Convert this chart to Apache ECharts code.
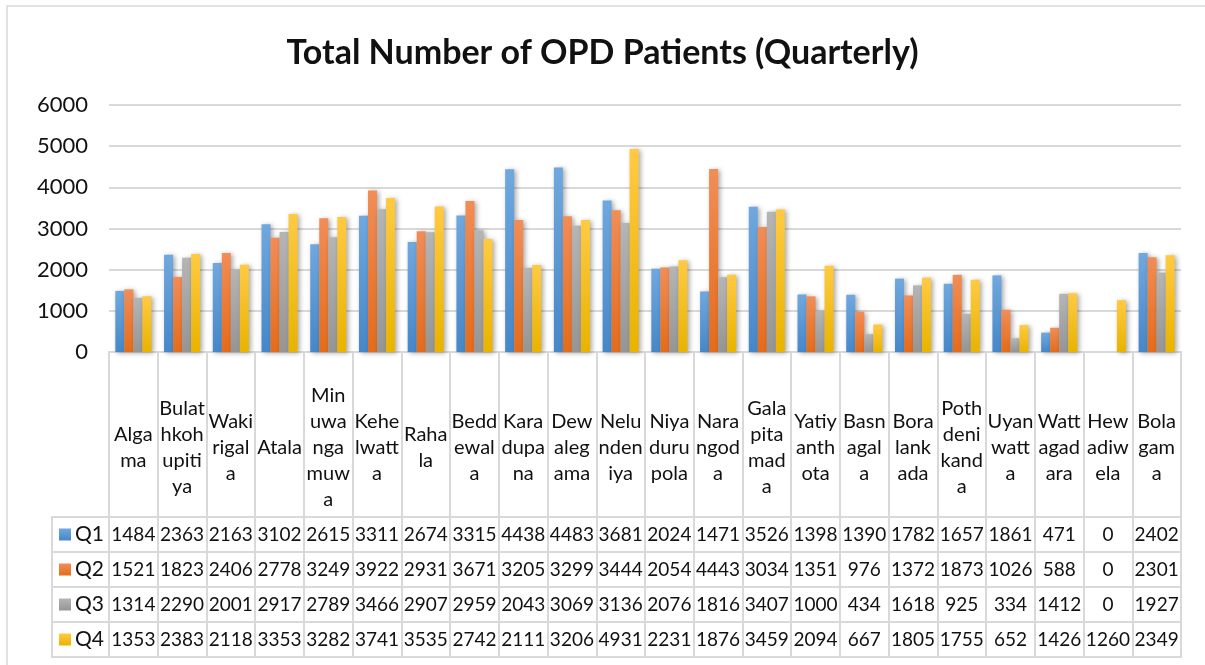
<!DOCTYPE html>
<html>
<head>
<meta charset="utf-8">
<title>Total Number of OPD Patients (Quarterly)</title>
<script src="https://cdn.jsdelivr.net/npm/echarts@6/dist/echarts.min.js"></script>
<style>
  html, body { margin: 0; padding: 0; background: #ffffff; }
  #chart { width: 1205px; height: 665px; }
</style>
</head>
<body>
<div id="chart"></div>
<script>
// Health centres, wrapped the way they appear in the table header row
const categories = [
  'Alga\nma', 'Bulat\nhkoh\nupiti\nya', 'Waki\nrigal\na', 'Atala', 'Min\nuwa\nnga\nmuw\na',
  'Kehe\nlwatt\na', 'Raha\nla', 'Bedd\newal\na', 'Kara\ndupa\nna', 'Dew\naleg\nama',
  'Nelu\nnden\niya', 'Niya\nduru\npola', 'Nara\nngod\na', 'Gala\npita\nmad\na', 'Yatiy\nanth\nota',
  'Basn\nagal\na', 'Bora\nlank\nada', 'Poth\ndeni\nkand\na', 'Uyan\nwatt\na', 'Watt\nagad\nara',
  'Hew\nadiw\nela', 'Bola\ngam\na'
];

const quarters = ['Q1', 'Q2', 'Q3', 'Q4'];

const q1 = [1484, 2363, 2163, 3102, 2615, 3311, 2674, 3315, 4438, 4483, 3681, 2024, 1471, 3526, 1398, 1390, 1782, 1657, 1861, 471, 0, 2402];
const q2 = [1521, 1823, 2406, 2778, 3249, 3922, 2931, 3671, 3205, 3299, 3444, 2054, 4443, 3034, 1351, 976, 1372, 1873, 1026, 588, 0, 2301];
const q3 = [1314, 2290, 2001, 2917, 2789, 3466, 2907, 2959, 2043, 3069, 3136, 2076, 1816, 3407, 1000, 434, 1618, 925, 334, 1412, 0, 1927];
const q4 = [1353, 2383, 2118, 3353, 3282, 3741, 3535, 2742, 2111, 3206, 4931, 2231, 1876, 3459, 2094, 667, 1805, 1755, 652, 1426, 1260, 2349];

const yMin = 0;
const yMax = 6000;
const yStep = 1000;

const quarterValues = [q1, q2, q3, q4];

// top / bottom shades of each quarter's gradient fill
const palette = [
  ['#70a8de', '#4687c9'],
  ['#f28d57', '#e46c1b'],
  ['#b5b5b5', '#959595'],
  ['#ffca42', '#e9b300']
];

const FONT = 'Lato, "Open Sans", "Noto Sans", sans-serif';
const TEXT = '#111111';
const LINE = '#d9d9d9';

// table geometry
const tableLeft = 109;
const tableWidth = 1072;
const headerTop = 352;
const headerHeight = 165;
const rowHeight = 35;
const rowsTop = headerTop + headerHeight;
const keyLeft = 52;
const keyWidth = tableLeft - keyLeft;

const chart = echarts.init(document.getElementById('chart'), null, { renderer: 'canvas' });

const grids = [
  { left: tableLeft, width: tableWidth, top: 105, height: headerTop - 105 },
  { left: tableLeft, width: tableWidth, top: headerTop, height: headerHeight,
    show: true, borderColor: LINE, borderWidth: 2 }
];
quarters.forEach((q, i) => {
  grids.push({ left: tableLeft, width: tableWidth, top: rowsTop + rowHeight * i, height: rowHeight,
    show: true, borderColor: LINE, borderWidth: 2 });
});
// key column holding the quarter legend
grids.push({ left: keyLeft, width: keyWidth, top: rowsTop, height: rowHeight * quarters.length,
  show: true, borderColor: LINE, borderWidth: 2 });
const keyGrid = grids.length - 1;

const xAxes = [
  {
    type: 'category', gridIndex: 0, data: categories,
    axisLine: { show: true, lineStyle: { color: LINE, width: 2 } },
    axisTick: { show: false }, axisLabel: { show: false }, splitLine: { show: false }
  },
  {
    type: 'category', gridIndex: 1, data: categories, position: 'bottom',
    axisLine: { show: false }, axisTick: { show: false },
    splitLine: { show: true, interval: 0, lineStyle: { color: LINE, width: 2 } },
    axisLabel: {
      show: true, interval: 0, inside: true, margin: 69, verticalAlign: 'middle',
      fontFamily: FONT, fontSize: 20, lineHeight: 26, color: TEXT, align: 'center'
    }
  }
];
quarterValues.forEach((vals, i) => {
  xAxes.push({
    type: 'category', gridIndex: 2 + i, data: categories, position: 'bottom',
    axisLine: { show: false }, axisTick: { show: false },
    splitLine: { show: true, interval: 0, lineStyle: { color: LINE, width: 2 } },
    axisLabel: {
      show: true, interval: 0, inside: true, margin: rowHeight / 2, verticalAlign: 'middle',
      fontFamily: FONT, fontSize: 19, color: TEXT, align: 'center',
      formatter: (v, idx) => String(vals[idx])
    }
  });
});
xAxes.push({ type: 'value', gridIndex: keyGrid, show: false });

const yAxes = [
  {
    type: 'value', gridIndex: 0, min: yMin, max: yMax, interval: yStep,
    axisLine: { show: false }, axisTick: { show: false },
    axisLabel: { fontFamily: FONT, fontSize: 22, color: TEXT, margin: 21, formatter: (v) => String(v) },
    splitLine: { show: true, lineStyle: { color: LINE, width: 2 } }
  }
];
for (let g = 1; g < keyGrid; g++) {
  yAxes.push({ type: 'value', gridIndex: g, show: false, min: 0, max: 1, splitLine: { show: false } });
}
yAxes.push({
  type: 'category', gridIndex: keyGrid, data: quarters, inverse: true,
  axisLine: { show: false }, axisTick: { show: false }, axisLabel: { show: false },
  splitLine: { show: true, interval: 0, lineStyle: { color: LINE, width: 2 } }
});

const series = quarters.map((q, i) => ({
  name: q,
  type: 'bar',
  xAxisIndex: 0,
  yAxisIndex: 0,
  data: quarterValues[i],
  barGap: '0%',
  barCategoryGap: '26%',
  itemStyle: {
    color: new echarts.graphic.LinearGradient(0, 0, 0, 1, [
      { offset: 0, color: palette[i][0] },
      { offset: 1, color: palette[i][1] }
    ]),
    shadowColor: 'rgba(0,0,0,0.35)',
    shadowBlur: 5,
    shadowOffsetX: 2,
    shadowOffsetY: 1
  },
  emphasis: { disabled: true },
  animation: false
}));

const legends = quarters.map((q, i) => ({
  data: [q],
  left: 59,
  top: rowsTop + rowHeight * i + 7,
  padding: 0,
  itemWidth: 12,
  itemHeight: 12,
  itemGap: 0,
  selectedMode: false,
  icon: 'rect',
  itemStyle: { shadowBlur: 0, shadowOffsetX: 0, shadowOffsetY: 0 },
  textStyle: { fontFamily: FONT, fontSize: 21, color: TEXT, padding: [0, 0, 0, -1] }
}));

chart.setOption({
  backgroundColor: '#ffffff',
  animation: false,
  title: {
    text: 'Total Number of OPD Patients (Quarterly)',
    left: 'center',
    top: 31,
    textStyle: { fontFamily: FONT, fontSize: 34, fontWeight: 'bold', color: '#111111' }
  },
  legend: legends,
  grid: grids,
  xAxis: xAxes,
  yAxis: yAxes,
  series: series,
  graphic: [{
    type: 'rect',
    silent: true,
    shape: { x: 7, y: 6, width: 1400, height: 900 },
    style: { fill: 'none', stroke: LINE, lineWidth: 1.5 }
  }]
});
</script>
</body>
</html>
